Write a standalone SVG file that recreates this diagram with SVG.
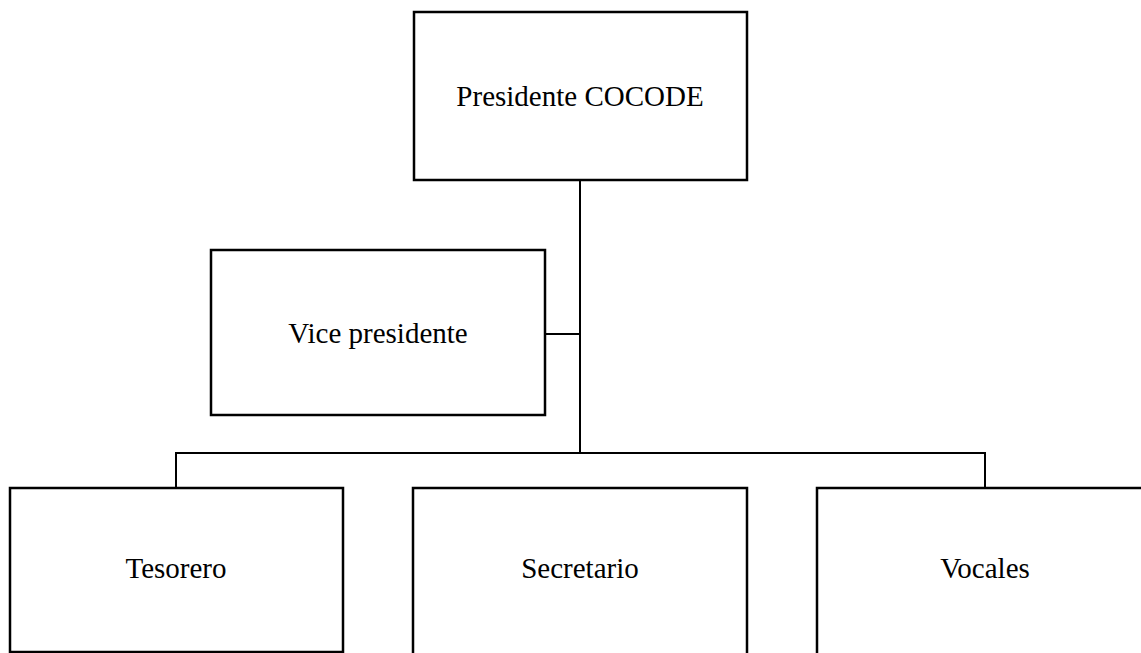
<svg xmlns="http://www.w3.org/2000/svg" width="1141" height="653" viewBox="0 0 1141 653">
<style>
.box{fill:#fff;stroke:#000;stroke-width:2.5}
.lbl{font-family:"Liberation Serif","Times New Roman",serif;font-size:29px;fill:#000;text-anchor:middle}
.con{fill:none;stroke:#000;stroke-width:2}
</style>
<rect width="1141" height="653" fill="#fff"/>
<g id="connectors">
<line class="con" x1="580" y1="180" x2="580" y2="453"/>
<line class="con" x1="545" y1="334" x2="580" y2="334"/>
<polyline class="con" points="176,488 176,453 985,453 985,488"/>
</g>
<g id="presidente">
<rect class="box" x="414" y="12" width="333" height="168"/>
<text class="lbl" x="580" y="106">Presidente COCODE</text>
</g>
<g id="vicepresidente">
<rect class="box" x="211" y="250" width="334" height="165"/>
<text class="lbl" x="378" y="343">Vice presidente</text>
</g>
<g id="tesorero">
<rect class="box" x="10" y="488" width="333" height="164"/>
<text class="lbl" x="176" y="578">Tesorero</text>
</g>
<g id="secretario">
<rect class="box" x="413" y="488" width="334" height="180"/>
<text class="lbl" x="580" y="578">Secretario</text>
</g>
<g id="vocales">
<rect class="box" x="817" y="488" width="340" height="180"/>
<text class="lbl" x="985" y="578">Vocales</text>
</g>
</svg>
